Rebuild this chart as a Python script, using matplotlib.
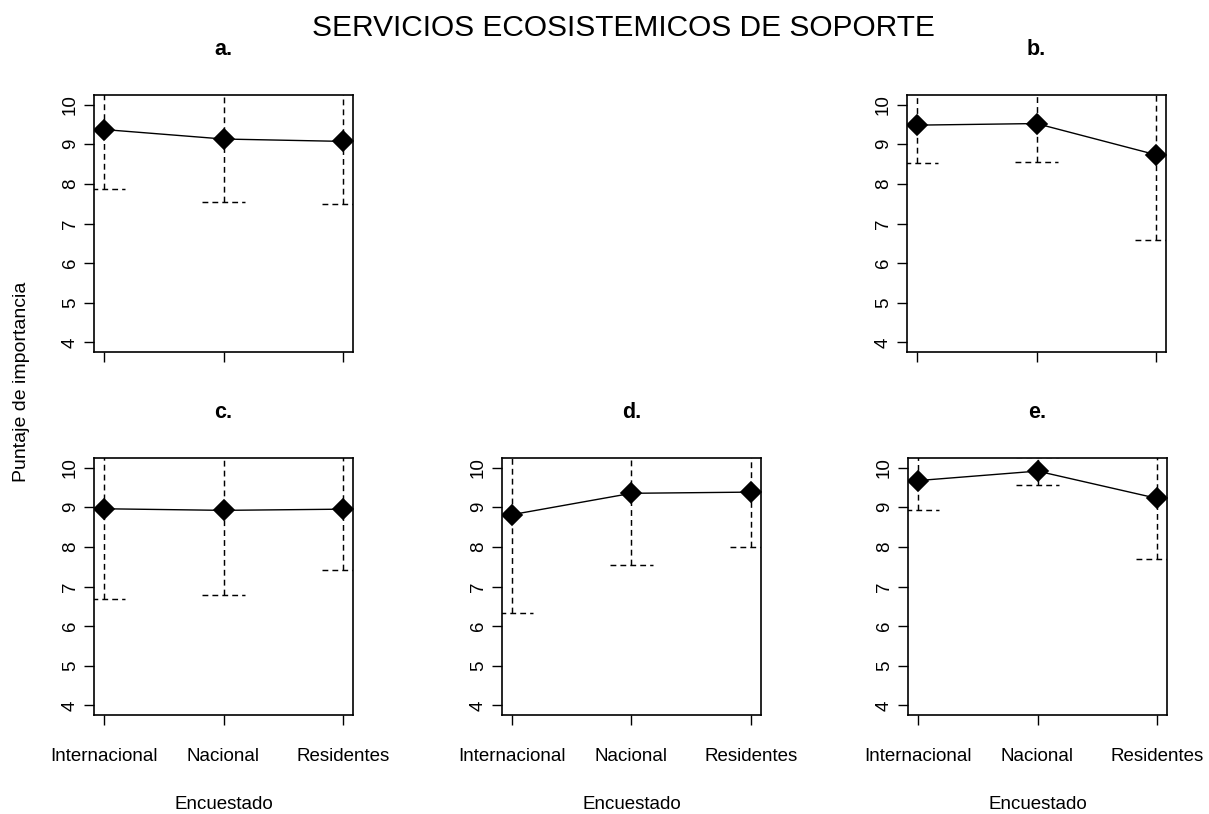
import matplotlib
matplotlib.use("Agg")
import matplotlib.pyplot as plt
import numpy as np

plt.rcParams['font.family'] = ['Liberation Sans', 'DejaVu Sans']

# Grupos de encuestados
grupos = ["Internacional", "Nacional", "Residentes"]
paneles = ["a.", "b.", "c.", "d.", "e."]

# Media del puntaje y limites del intervalo por panel
media_a = [9.37, 9.13, 9.07]
inf_a = [7.87, 7.53, 7.49]
sup_a = [10.87, 10.73, 10.65]

media_b = [9.48, 9.52, 8.73]
inf_b = [8.52, 8.56, 6.58]
sup_b = [10.44, 10.48, 10.88]

media_c = [8.96, 8.92, 8.95]
inf_c = [6.68, 6.78, 7.42]
sup_c = [11.24, 11.06, 10.48]

media_d = [8.81, 9.35, 9.38]
inf_d = [6.32, 7.54, 7.99]
sup_d = [11.30, 11.16, 10.77]

media_e = [9.67, 9.91, 9.22]
inf_e = [8.94, 9.55, 7.69]
sup_e = [10.40, 10.27, 10.75]

medias = [media_a, media_b, media_c, media_d, media_e]
inferiores = [inf_a, inf_b, inf_c, inf_d, inf_e]
superiores = [sup_a, sup_b, sup_c, sup_d, sup_e]

W, H = 1209, 814
fig = plt.figure(figsize=(W / 100, H / 100), dpi=100)

# posiciones de los paneles en pixeles (izquierda, abajo)
lefts = [94, 907, 94, 502, 908]
bottoms = [352, 352, 715, 715, 715]
ancho, alto = 259, 257

x = np.arange(1, 4)
cap = 0.18
dash = (4, 2.8)

for k in range(5):
    ax = fig.add_axes([lefts[k] / W, (H - bottoms[k]) / H, ancho / W, alto / H])
    m = medias[k]
    lo = inferiores[k]
    hi = superiores[k]

    # barras de error discontinuas
    for xi, mi, l, h in zip(x, m, lo, hi):
        ax.plot([xi, xi], [l, h], color='black', lw=1.05, dashes=dash)
        ax.plot([xi - cap, xi + cap], [l, l], color='black', lw=1.05, dashes=dash)
        ax.plot([xi - cap, xi + cap], [h, h], color='black', lw=1.05, dashes=dash)

    ax.plot(x, m, color='black', lw=1.0)
    ax.plot(x, m, 'D', color='black', ms=10, mec='black', mew=1.2)

    ax.set_xlim(0.92, 3.08)
    ax.set_ylim(3.76, 10.24)
    ax.set_yticks(range(4, 11))
    ax.set_xticks(x)
    ax.tick_params(direction='out', length=7, width=1.0, colors='black',
                   labelsize=13.5)
    ax.tick_params(axis='y', labelrotation=90, pad=4)
    for t in ax.get_yticklabels():
        t.set_va('center')
    if bottoms[k] == 715:
        ax.set_xticklabels(grupos)
        ax.tick_params(axis='x', pad=17)
        ax.set_xlabel("Encuestado", fontsize=13.5, labelpad=22)
    else:
        ax.set_xticklabels([])
    for s in ax.spines.values():
        s.set_linewidth(1.2)
    ax.set_title(paneles[k], fontweight='bold', fontsize=15.5, pad=29)

fig.text(0.516, 1 - 28 / H, "SERVICIOS ECOSISTEMICOS DE SOPORTE",
         ha='center', va='center', fontsize=21.5)
fig.text(22 / W, 1 - 382 / H, "Puntaje de importancia", rotation=90,
         ha='center', va='center', fontsize=14)

fig.savefig("out.png", dpi=100)
